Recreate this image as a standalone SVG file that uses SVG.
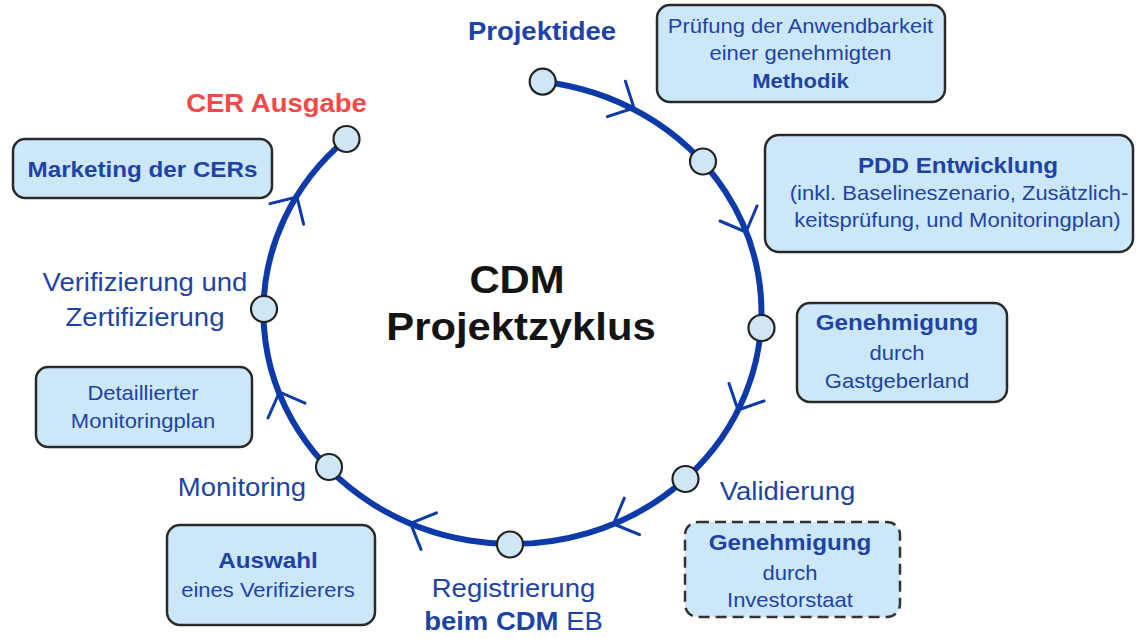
<svg xmlns="http://www.w3.org/2000/svg" width="1136" height="639" viewBox="0 0 1136 639">
<style>
text { font-family: "Liberation Sans", Arial, sans-serif; fill: #1e43a6; text-anchor: middle; transform-box: fill-box; transform-origin: center; transform: scaleX(1.1); }
.b { font-weight: bold; }
.s20 { font-size: 20px; }
.s22 { font-size: 22px; }
.s25 { font-size: 25px; }
.red { fill: #f2494a; }
.title { font-size: 38px; font-weight: bold; fill: #141414; }
.box { fill: #cce7f7; stroke: #2a2a2a; stroke-width: 2.5; }
.dash { stroke-dasharray: 11 6; stroke: #333; }
.node { fill: #cfe6f4; stroke: #222; stroke-width: 2.2; }
.cycle { fill: none; stroke: #0d3aa9; stroke-width: 6; stroke-linecap: round; }
.chev { fill: none; stroke: #0d3aa9; stroke-width: 3; stroke-linecap: round; stroke-linejoin: round; }
</style>

<g id="connectors">
  <path class="cycle" d="M 542.7 81.7 A 249 232 0 1 1 346.5 139"/>
  <path class="chev" d="M 625.4 81.3 L 634 108 L 607.3 116.6"/>
  <path class="chev" d="M 757 206 L 746 232 L 720 221"/>
  <path class="chev" d="M 764 401 L 738 410 L 729 383.5"/>
  <path class="chev" d="M 639.5 534.7 L 613.5 524 L 624.3 498.1"/>
  <path class="chev" d="M 421 549.4 L 410.5 523.4 L 436.5 512.9"/>
  <path class="chev" d="M 268 418 L 279.5 392 L 305 403.2"/>
  <path class="chev" d="M 270 203.6 L 297 197 L 303.6 224.2"/>
</g>

<g id="center-title">
  <text class="title" x="517" y="293">CDM</text>
  <text class="title" x="521" y="340">Projektzyklus</text>
</g>

<g id="node-projektidee">
  <circle class="node" cx="542.7" cy="81.7" r="13"/>
  <text class="b s25" x="542" y="40">Projektidee</text>
</g>
<g id="node-pdd">
  <circle class="node" cx="703" cy="161.5" r="13"/>
</g>
<g id="node-genehmigung-gast">
  <circle class="node" cx="761.5" cy="328" r="13"/>
</g>
<g id="node-validierung">
  <circle class="node" cx="685.5" cy="479" r="13"/>
  <text class="s25" x="787.5" y="500">Validierung</text>
</g>
<g id="node-registrierung">
  <circle class="node" cx="510" cy="544.5" r="13"/>
  <text class="s25" x="513.5" y="597">Registrierung</text>
  <text class="s25" x="513.5" y="630"><tspan class="b">beim CDM</tspan> EB</text>
</g>
<g id="node-monitoring">
  <circle class="node" cx="329" cy="467" r="13"/>
  <text class="s25" x="242" y="496">Monitoring</text>
</g>
<g id="node-verifizierung">
  <circle class="node" cx="264" cy="309" r="13"/>
  <text class="s25" x="145" y="291">Verifizierung und</text>
  <text class="s25" x="145" y="326">Zertifizierung</text>
</g>
<g id="node-cer">
  <circle class="node" cx="346.5" cy="139" r="13"/>
  <text class="b s25 red" x="276.5" y="112">CER Ausgabe</text>
</g>

<g id="box-methodik">
  <rect class="box" x="657" y="5" width="288" height="97" rx="13"/>
  <text class="s20" x="800.5" y="33">Prüfung der Anwendbarkeit</text>
  <text class="s20" x="800.5" y="60">einer genehmigten</text>
  <text class="s20 b" x="800.5" y="88">Methodik</text>
</g>
<g id="box-pdd">
  <rect class="box" x="765" y="135" width="368" height="117" rx="14"/>
  <text class="s22 b" x="958" y="173">PDD Entwicklung</text>
  <text class="s20" x="959" y="200">(inkl. Baselineszenario, Zusätzlich-</text>
  <text class="s20" x="957.5" y="227">keitsprüfung, und Monitoringplan)</text>
</g>
<g id="box-gastgeberland">
  <rect class="box" x="797" y="303" width="210" height="99" rx="13"/>
  <text class="s22 b" x="897" y="330">Genehmigung</text>
  <text class="s20" x="897" y="360">durch</text>
  <text class="s20" x="897" y="388">Gastgeberland</text>
</g>
<g id="box-investorstaat">
  <rect class="box dash" x="685" y="522" width="215" height="95" rx="13"/>
  <text class="s22 b" x="790" y="550">Genehmigung</text>
  <text class="s20" x="790" y="580">durch</text>
  <text class="s20" x="790" y="607">Investorstaat</text>
</g>
<g id="box-auswahl">
  <rect class="box" x="167" y="525" width="208" height="100" rx="13"/>
  <text class="s22 b" x="268" y="568">Auswahl</text>
  <text class="s20" x="268" y="597">eines Verifizierers</text>
</g>
<g id="box-monitoringplan">
  <rect class="box" x="36" y="367" width="216" height="80" rx="12"/>
  <text class="s20" x="143" y="400">Detaillierter</text>
  <text class="s20" x="143" y="428">Monitoringplan</text>
</g>
<g id="box-marketing">
  <rect class="box" x="13" y="139" width="259" height="59" rx="12"/>
  <text class="s22 b" x="142.5" y="177">Marketing der CERs</text>
</g>
</svg>
